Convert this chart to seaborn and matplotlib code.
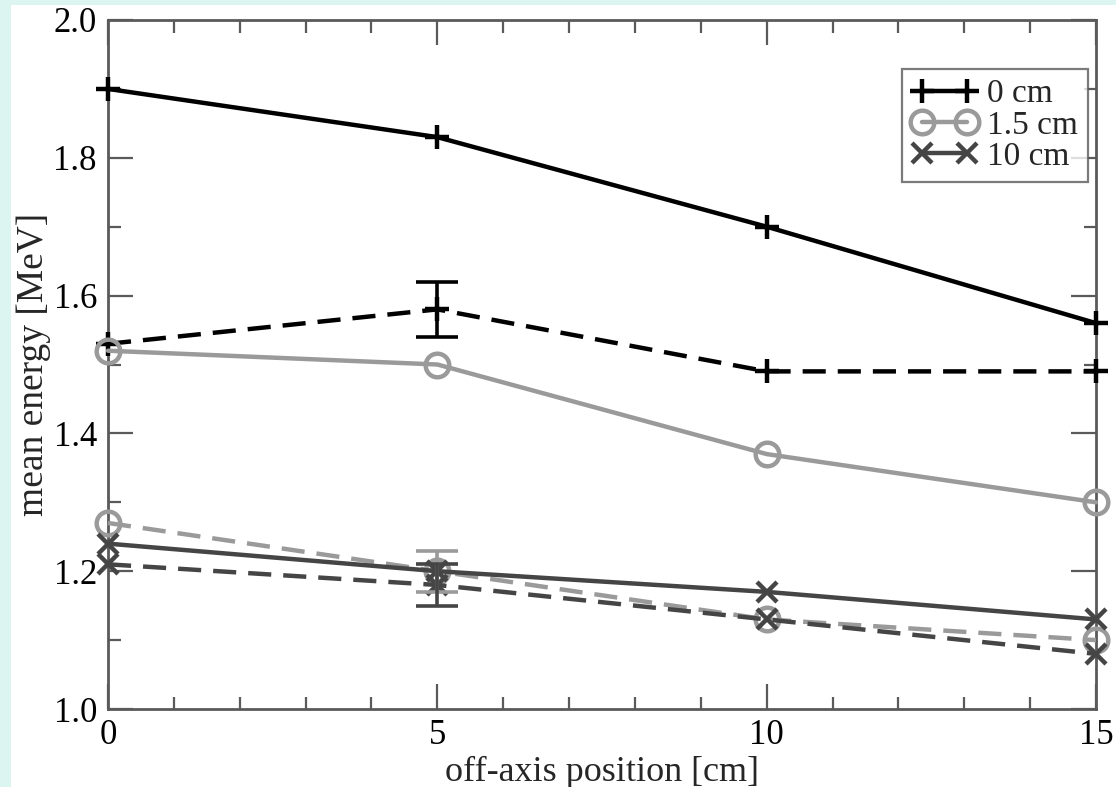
import matplotlib
matplotlib.use("Agg")
import matplotlib.pyplot as plt
from matplotlib.patches import Rectangle
from matplotlib.lines import Line2D
from matplotlib.ticker import MultipleLocator
import numpy as np
import pandas as pd
import seaborn as sns

# off-axis positions [cm]
positions = [0, 5, 10, 15]

# mean energy [MeV] at each depth; solid = first set, dashed = second set
e0_solid = [1.90, 1.83, 1.70, 1.56]
e0_dashed = [1.53, 1.58, 1.49, 1.49]
e15_solid = [1.52, 1.50, 1.37, 1.30]
e15_dashed = [1.27, 1.20, 1.13, 1.10]
e10_solid = [1.24, 1.20, 1.17, 1.13]
e10_dashed = [1.21, 1.18, 1.13, 1.08]

# uncertainties on the dashed sets (only the 5 cm point carries a visible bar)
err0_dashed = [0.0, 0.04, 0.0, 0.0]
err15_dashed = [0.0, 0.03, 0.0, 0.0]
err10_dashed = [0.0, 0.03, 0.0, 0.0]

legend_labels = ["0 cm", "1.5 cm", "10 cm"]

sns.set_theme(style="ticks")
plt.rcParams["font.family"] = ["Liberation Serif", "DejaVu Serif"]

BLACK = "#000000"
LIGHT = "#9a9a9a"
DARK = "#454545"
SPINE = "#5a5a5a"
LW = 3.2
MS = 17

fig = plt.figure(figsize=(11.16, 7.87), dpi=100, facecolor="#dcf5f1")
# white page area behind the plot
fig.patches.append(Rectangle((11 / 1116, 0), 1 - 11 / 1116, 1 - 5 / 787,
                             transform=fig.transFigure, facecolor="white",
                             edgecolor="none", zorder=-10))
ax = fig.add_axes([108 / 1116, 1 - 709 / 787, (1096 - 108) / 1116, (709 - 20) / 787])
ax.set_zorder(5)
ax.set_facecolor("white")

series = [
    (e0_solid, BLACK, "-", "+", None),
    (e0_dashed, BLACK, "--", "+", err0_dashed),
    (e15_solid, LIGHT, "-", "o", None),
    (e15_dashed, LIGHT, "--", "o", err15_dashed),
    (e10_solid, DARK, "-", "x", None),
    (e10_dashed, DARK, "--", "x", err10_dashed),
]

for vals, color, ls, marker, err in series:
    df = pd.DataFrame({"pos": positions, "energy": vals})
    mfc = "none" if marker == "o" else color
    sns.lineplot(data=df, x="pos", y="energy", ax=ax, color=color,
                 linestyle=ls, linewidth=LW, marker=marker,
                 markersize=MS if marker != "x" else MS - 2,
                 markeredgewidth=LW, markerfacecolor=mfc,
                 markeredgecolor=color, legend=False, clip_on=False,
                 zorder=3)
    if err is not None:
        errs = np.array(err)
        mask = errs > 0
        ax.errorbar(np.array(positions)[mask], np.array(vals)[mask],
                    yerr=errs[mask], fmt="none", ecolor=color,
                    elinewidth=2.6, capsize=15, capthick=2.6, zorder=4)

for ln in ax.lines:
    if ln.get_linestyle() == "--":
        ln.set_dashes([5.2, 2.7])

ax.set_xlim(0, 15)
ax.set_ylim(1.0, 2.0)
ax.xaxis.set_major_locator(MultipleLocator(5))
ax.xaxis.set_minor_locator(MultipleLocator(1))
ax.yaxis.set_major_locator(MultipleLocator(0.2))
ax.yaxis.set_minor_locator(MultipleLocator(0.1))
ax.yaxis.set_major_formatter(plt.FuncFormatter(lambda v, p: f"{v:.1f}"))

ax.tick_params(which="both", direction="in", top=True, right=True,
               color=SPINE, width=1.6, labelsize=25, labelcolor="black")
ax.tick_params(which="major", length=18, pad=7)
ax.tick_params(which="minor", length=9)
ax.tick_params(axis="y", which="major", pad=8)

for sp in ax.spines.values():
    sp.set_color(SPINE)
    sp.set_linewidth(2.0)

ax.set_xlabel("off-axis position [cm]", fontsize=26, labelpad=3)
ax.set_ylabel("mean energy [MeV]", fontsize=27, labelpad=2)

handles = [
    Line2D([], [], color=BLACK, lw=LW, marker="+", ms=MS, mew=LW),
    Line2D([], [], color=LIGHT, lw=LW, marker="o", ms=MS, mew=LW, mfc="none"),
    Line2D([], [], color=DARK, lw=LW, marker="x", ms=MS - 2, mew=LW),
]
leg = ax.legend(handles, legend_labels, loc="upper right",
                bbox_to_anchor=(0.992, 0.929), numpoints=2, fontsize=24,
                frameon=True, fancybox=False, handlelength=1.95,
                handletextpad=0.3, labelspacing=0.02, borderpad=0.3,
                borderaxespad=0.0)
leg.get_frame().set_edgecolor(SPINE)
leg.get_frame().set_linewidth(1.6)

fig.savefig("out.png", dpi=100, facecolor=fig.get_facecolor())
